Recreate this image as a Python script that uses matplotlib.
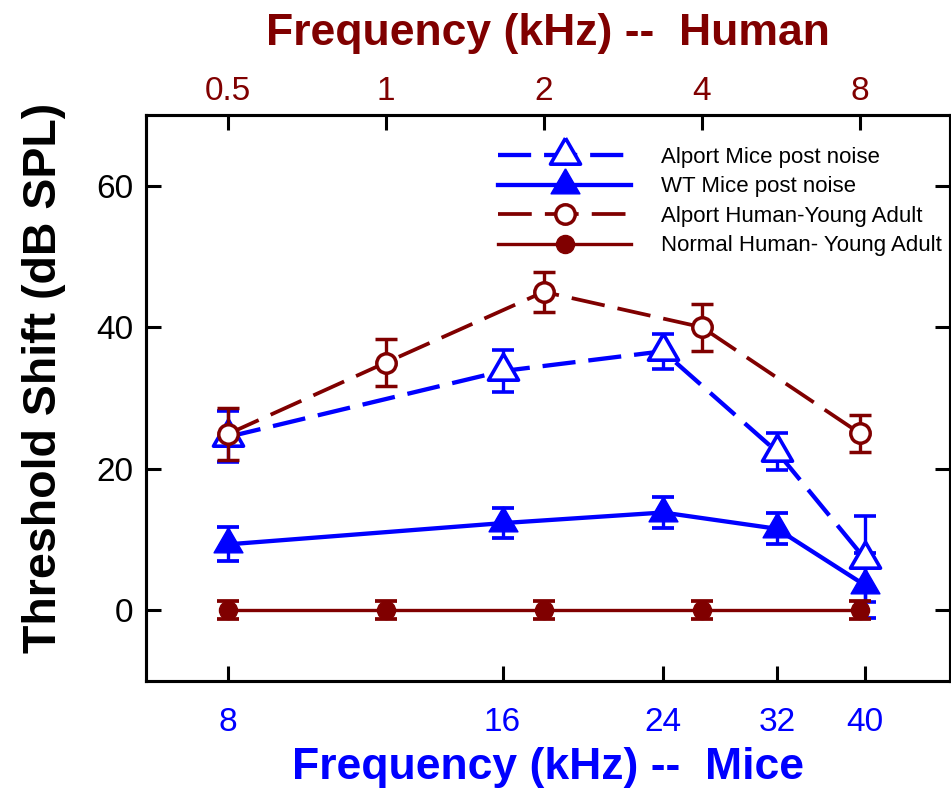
import numpy as np
import matplotlib
matplotlib.use("Agg")
import matplotlib.pyplot as plt
from matplotlib.ticker import FixedLocator, NullLocator, NullFormatter

plt.rcParams['font.family'] = ['Liberation Sans', 'DejaVu Sans']

blue = '#0000FF'
dred = '#800000'

# mice frequencies (kHz) and threshold shifts
mice_freq = [8, 16, 24, 32, 40]
alport_mice = [24.5, 33.8, 36.6, 22.4, 7.2]
alport_mice_err = [3.6, 2.95, 2.5, 2.6, 6.1]
wt_mice = [9.3, 12.3, 13.8, 11.5, 3.5]
wt_mice_err = [2.4, 2.1, 2.2, 2.2, 4.6]

# human frequencies (kHz)
human_freq = [0.5, 1, 2, 4, 8]
alport_human = [24.9, 35.0, 45.0, 40.0, 25.0]
alport_human_err = [3.65, 3.3, 2.85, 3.35, 2.6]
normal_human = [0, 0, 0, 0, 0]
normal_human_err = [1.3, 1.3, 1.3, 1.3, 1.3]

mice_ticks = [8, 16, 24, 32, 40]
human_ticks = [0.5, 1, 2, 4, 8]
human_ticklabels = ['0.5', '1', '2', '4', '8']
y_ticks = [0, 20, 40, 60]
legend_labels = ['Alport Mice post noise', 'WT Mice post noise',
                 'Alport Human-Young Adult', 'Normal Human- Young Adult']

# equilateral triangle centred on its centroid
tri = [(0, 1), (-0.866, -0.5), (0.866, -0.5), (0, 1)]

fig = plt.figure(figsize=(9.51, 7.88), dpi=100)
ax = fig.add_axes([0.1535, 0.136, 0.845, 0.718])
ax.set_xscale('log')
ax.set_xlim(6.5, 49.5)
ax.set_ylim(-10, 70)

ax2 = ax.twiny()
ax2.set_xscale('log')
ax2.set_xlim(0.349, 11.86)

eb1 = ax.errorbar(mice_freq, alport_mice, yerr=alport_mice_err, color=blue,
                  lw=3.1, dashes=(7.7, 3), marker=tri, ms=25, mfc='white',
                  mec=blue, mew=2.6, elinewidth=2.4, capsize=8, capthick=2.7)
eb2 = ax.errorbar(mice_freq, wt_mice, yerr=wt_mice_err, color=blue,
                  lw=3.1, marker=tri, ms=24, mfc=blue, mec=blue,
                  elinewidth=2.4, capsize=8, capthick=2.7)
eb3 = ax2.errorbar(human_freq, alport_human, yerr=alport_human_err, color=dred,
                   lw=2.7, dashes=(9, 3.5), marker='o', ms=14, mfc='white',
                   mec=dred, mew=2.5, elinewidth=2.4, capsize=8, capthick=2.7)
eb4 = ax2.errorbar(human_freq, normal_human, yerr=normal_human_err, color=dred,
                   lw=2.4, marker='o', ms=13, mfc=dred, mec=dred,
                   elinewidth=2.4, capsize=8, capthick=2.7)

# axes styling
for a in (ax, ax2):
    for s in a.spines.values():
        s.set_linewidth(2.2)

ax.xaxis.set_major_locator(FixedLocator(mice_ticks))
ax.xaxis.set_minor_locator(NullLocator())
ax.xaxis.set_minor_formatter(NullFormatter())
ax.set_xticklabels([str(t) for t in mice_ticks])
ax.set_yticks(y_ticks)
ax.tick_params(axis='x', direction='in', length=11, width=2.2, pad=19,
               labelsize=24, labelcolor=blue)
ax.tick_params(axis='y', direction='in', length=11, width=2.2, pad=9,
               labelsize=24, right=True)

ax2.xaxis.set_major_locator(FixedLocator(human_ticks))
ax2.xaxis.set_minor_locator(NullLocator())
ax2.xaxis.set_minor_formatter(NullFormatter())
ax2.set_xticklabels(human_ticklabels)
ax2.tick_params(axis='x', direction='in', length=11, width=2.2, pad=6,
                labelsize=24, labelcolor=dred)

ax.set_xlabel('Frequency (kHz) --  Mice', fontsize=32, fontweight='bold',
              color=blue, labelpad=6)
ax2.set_xlabel('Frequency (kHz) --  Human', fontsize=32, fontweight='bold',
               color=dred, labelpad=22)
ax.set_ylabel('Threshold Shift (dB SPL)', fontsize=33.5, fontweight='bold')
ax.yaxis.set_label_coords(-0.1, 0.535)

handles = [eb1[0], eb2[0], eb3[0], eb4[0]]
ax2.legend(handles, legend_labels, loc='upper left',
           bbox_to_anchor=(498 / 951, 1 - 147 / 788),
           bbox_transform=fig.transFigure, frameon=False, fontsize=16,
           handlelength=6.0, handletextpad=1.35, labelspacing=0.38,
           borderpad=0, borderaxespad=0, numpoints=1)

fig.savefig('out.png', dpi=100)
